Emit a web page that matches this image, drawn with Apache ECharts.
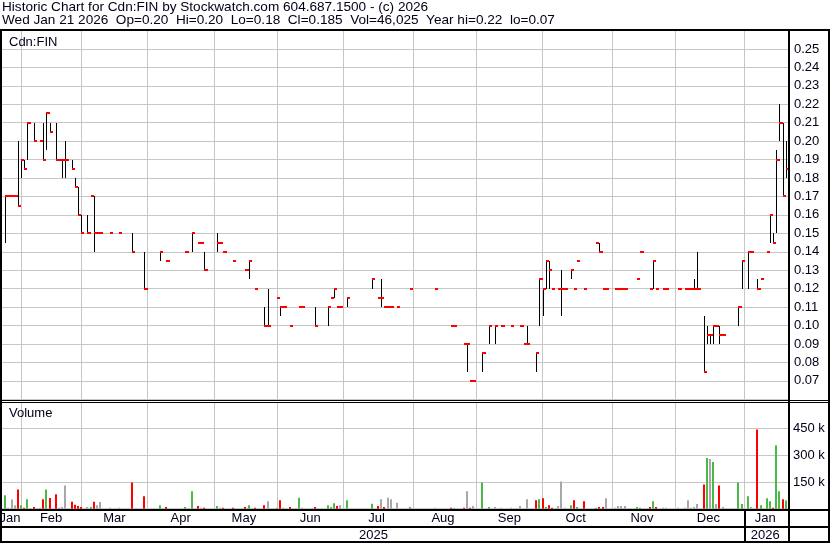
<!DOCTYPE html>
<html><head><meta charset="utf-8">
<script src="https://cdn.jsdelivr.net/npm/echarts@6/dist/echarts.min.js"></script>
<style>html,body{margin:0;padding:0;background:#fff}#c{width:830px;height:543px}</style>
</head><body><div id="c"></div>
<script>
// ---- axis structure (trading-day slots per month) ----
const monthNames = ['Jan','Feb','Mar','Apr','May','Jun','Jul','Aug','Sep','Oct','Nov','Dec','Jan'];
const monthYears = [2025,2025,2025,2025,2025,2025,2025,2025,2025,2025,2025,2025,2026];
const monthSlots = [6,19,21,21,20,21,22,20,21,22,20,22,14];
const yearNames = ['2025','2026'];
const priceTickMin = 0.06, priceTickMax = 0.26, priceTickStep = 0.01;
const volTickMax = 600000, volTickStep = 150000;

// ---- daily data (slot index, high, low, close, volume in thousands) ----
const slots = [1,2,3,4,5,6,7,8,10,12,13,14,15,17,18,19,20,22,23,24,25,27,28,29,30,31,34,37,41,45,50,52,58,60,62,63,64,68,69,70,73,77,78,80,83,84,87,88,89,91,94,95,99,103,104,105,106,107,109,117,119,120,121,122,123,125,129,137,142,143,146,147,148,149,152,154,156,158,161,164,165,166,169,170,171,172,173,174,176,177,178,180,181,182,184,188,189,190,191,194,195,196,197,201,202,205,206,207,209,210,214,216,217,218,219,220,222,223,224,225,226,227,228,233,234,236,237,239,240,242,243,244,245,246,247,248];
const high = [.17,.17,.17,.17,.20,.19,.19,.21,.21,.20,.21,.215,.21,.21,.19,.19,.20,.19,.18,.175,.16,.16,.17,.17,.15,.15,.15,.15,.15,.14,.14,.135,.14,.15,.145,.145,.14,.15,.145,.14,.135,.13,.135,.12,.11,.12,.115,.11,.11,.10,.11,.11,.11,.11,.115,.12,.11,.11,.115,.125,.115,.125,.11,.11,.11,.11,.12,.12,.10,.10,.09,.09,.07,.07,.085,.10,.10,.10,.10,.10,.09,.10,.085,.125,.12,.135,.135,.12,.12,.13,.12,.13,.12,.135,.12,.145,.145,.12,.12,.12,.12,.12,.12,.125,.14,.12,.135,.12,.12,.12,.12,.12,.12,.12,.125,.14,.105,.10,.095,.10,.10,.10,.095,.11,.135,.14,.14,.125,.125,.14,.16,.15,.195,.22,.21,.20];
const low = [.145,.17,.17,.17,.165,.18,.185,.19,.20,.20,.19,.195,.205,.19,.19,.18,.18,.185,.175,.16,.15,.15,.17,.14,.15,.15,.15,.15,.14,.12,.135,.135,.14,.14,.145,.145,.13,.14,.145,.14,.135,.13,.125,.12,.10,.10,.115,.105,.11,.10,.11,.11,.10,.10,.115,.115,.11,.11,.11,.12,.115,.11,.11,.11,.11,.11,.12,.12,.10,.10,.09,.075,.07,.07,.075,.09,.09,.10,.10,.10,.09,.09,.075,.10,.105,.12,.12,.12,.12,.105,.12,.125,.12,.135,.12,.145,.14,.12,.12,.12,.12,.12,.12,.125,.14,.12,.12,.12,.12,.12,.12,.12,.12,.12,.12,.12,.075,.09,.09,.09,.10,.09,.095,.10,.12,.12,.14,.12,.125,.14,.145,.145,.15,.20,.17,.18];
const close = [.17,.17,.17,.17,.165,.19,.185,.21,.20,.20,.19,.215,.205,.19,.19,.19,.19,.185,.175,.16,.15,.15,.17,.15,.15,.15,.15,.15,.14,.12,.14,.135,.14,.15,.145,.145,.13,.145,.145,.14,.135,.13,.135,.12,.10,.10,.115,.11,.11,.10,.11,.11,.10,.11,.115,.12,.11,.11,.115,.125,.115,.115,.11,.11,.11,.11,.12,.12,.10,.10,.09,.09,.07,.07,.085,.10,.10,.10,.10,.10,.09,.09,.085,.125,.12,.135,.13,.12,.12,.12,.12,.13,.12,.135,.12,.145,.14,.12,.12,.12,.12,.12,.12,.125,.14,.12,.135,.12,.12,.12,.12,.12,.12,.12,.12,.12,.075,.095,.095,.10,.10,.095,.095,.11,.135,.14,.14,.12,.125,.14,.16,.145,.19,.21,.17,.185];
const volumeK = [75,5,52,20,108,20,6,53,9,5,53,108,60,81,5,9,130,39,22,15,9,9,9,39,20,37,5,5,147,70,20,9,9,98,15,5,5,15,5,5,5,9,20,5,20,42,5,48,5,9,61,5,9,20,9,31,15,20,48,28,15,53,9,61,53,33,9,5,5,5,5,98,5,15,147,9,9,5,5,15,0,53,48,53,59,9,20,5,15,153,5,20,48,9,42,5,9,9,59,5,15,15,15,9,5,9,42,9,5,5,5,5,48,5,9,26,136,285,280,263,26,130,9,147,26,70,9,445,20,59,42,5,357,98,53,46];

// ---- geometry / styles ----
const FONT = '"Liberation Sans", Arial, sans-serif';
const TXT = '#000018';
const GRIDC = '#c6c6c6';
const L = 2.14, SLOT = 3.16;
const N = monthSlots.reduce((a, b) => a + b, 0);
const W = N * SLOT;

const categories = [];
const monthStart = new Set();
const monthLabelAt = {};
const yearLabelAt = {};
let idx = 0;
monthSlots.forEach((n, m) => {
  if (m > 0) monthStart.add(idx);
  monthLabelAt[idx + Math.floor((n - 1) / 2)] = monthNames[m];
  for (let j = 0; j < n; j++) categories.push(monthNames[m] + ' ' + monthYears[m] + ' #' + (j + 1));
  idx += n;
});
const firstOf2026 = monthSlots.slice(0, 12).reduce((a, b) => a + b, 0);
yearLabelAt[Math.floor((firstOf2026 - 1) / 2)] = yearNames[0];
yearLabelAt[firstOf2026 + Math.floor((N - firstOf2026 - 1) / 2)] = yearNames[1];

const priceData = slots.map((s, k) => [s, high[k], low[k], close[k]]);
const volData = slots.map((s, k) => {
  const prev = k > 0 ? close[k - 1] : null;
  const dir = prev === null || close[k] > prev + 1e-9 ? 0 : (close[k] < prev - 1e-9 ? 1 : 2);
  return [s, volumeK[k] * 1000, dir];
});
const volColors = ['#4cb848', '#ff0000', '#a8a8a8'];

function renderPrice(params, api) {
  const s = api.value(0), hi = api.value(1), lo = api.value(2), cl = api.value(3);
  const pH = api.coord([s, hi]), pL = api.coord([s, lo]), pC = api.coord([s, cl]);
  const bw = api.size([1, 0])[0];
  const x0 = Math.round(pH[0] - bw / 2), x1 = Math.round(pH[0] + bw / 2);
  const ch = [];
  if (hi > lo) {
    ch.push({type: 'rect', shape: {x: x0, y: Math.round(pH[1]), width: 1, height: Math.max(1, Math.round(pL[1]) - Math.round(pH[1]))}, style: {fill: '#000'}});
  }
  ch.push({type: 'rect', shape: {x: x0, y: Math.round(pC[1]) - 1, width: x1 - x0, height: 2}, style: {fill: '#ff0000'}});
  return {type: 'group', children: ch};
}
function renderVol(params, api) {
  const s = api.value(0);
  const top = api.coord([s, api.value(1)]), base = api.coord([s, 0]);
  const bw = api.size([1, 0])[0];
  const x0 = Math.round(top[0] - bw / 2);
  return {type: 'rect', shape: {x: x0 - 1, y: top[1], width: 2, height: base[1] - top[1]}, style: {fill: volColors[api.value(2)]}};
}

const PT = 30.5, PH = 368.8, VT = 402, VH = 106.7;
const monthSplit = {show: true, interval: (i) => monthStart.has(i), lineStyle: {color: GRIDC, width: 1}};
const black = (x, y, w, h) => ({type: 'rect', silent: true, z: 100, shape: {x, y, width: w, height: h}, style: {fill: '#000'}});
const txt = (text, x, y, size) => ({type: 'text', silent: true, z: 100, x, y, style: {text, font: (size || 13) + 'px ' + FONT, fill: TXT, textVerticalAlign: 'middle', verticalAlign: 'middle'}});
const sepX = Math.round(L + firstOf2026 * SLOT) - 1;

const chart = echarts.init(document.getElementById('c'), null, {renderer: 'canvas'});
chart.setOption({
  animation: false,
  backgroundColor: '#fff',
  grid: [
    {left: L, top: PT, width: W, height: PH, containLabel: false, outerBoundsMode: 'none'},
    {left: L, top: VT, width: W, height: VH, containLabel: false, outerBoundsMode: 'none'}
  ],
  xAxis: [
    {type: 'category', gridIndex: 0, position: 'bottom', data: categories, axisLine: {show: false}, axisTick: {show: false}, axisLabel: {show: false}, splitLine: monthSplit},
    {type: 'category', gridIndex: 1, position: 'bottom', data: categories, axisLine: {show: false}, axisTick: {show: false}, splitLine: monthSplit,
      axisLabel: {interval: (i) => monthLabelAt[i] !== undefined, formatter: (v, i) => monthLabelAt[i] || '', margin: 3, fontSize: 13, fontFamily: FONT, color: TXT}},
    {type: 'category', gridIndex: 1, position: 'bottom', data: categories, offset: 17, axisLine: {show: false}, axisTick: {show: false}, splitLine: {show: false},
      axisLabel: {interval: (i) => yearLabelAt[i] !== undefined, formatter: (v, i) => yearLabelAt[i] || '', margin: 3, fontSize: 13, fontFamily: FONT, color: TXT}}
  ],
  yAxis: [
    {type: 'value', gridIndex: 0, position: 'right', min: priceTickMin, max: priceTickMax, interval: priceTickStep,
      axisLine: {show: false}, axisTick: {show: false}, splitLine: {lineStyle: {color: GRIDC, width: 1}},
      axisLabel: {margin: 5, fontSize: 13, fontFamily: FONT, color: TXT,
        formatter: (v) => (v < priceTickMin + 0.005 || v > priceTickMax - 0.005) ? '' : v.toFixed(2)}},
    {type: 'value', gridIndex: 1, position: 'right', min: 0, max: volTickMax, interval: volTickStep,
      axisLine: {show: false}, axisTick: {show: false}, splitLine: {lineStyle: {color: GRIDC, width: 1}},
      axisLabel: {margin: 4, fontSize: 13, fontFamily: FONT, color: TXT,
        formatter: (v) => (v <= 0 || v >= volTickMax) ? '' : (v / 1000) + ' k'}}
  ],
  series: [
    {type: 'custom', name: 'price', xAxisIndex: 0, yAxisIndex: 0, data: priceData, renderItem: renderPrice, encode: {x: 0, y: [1, 2, 3]}, z: 5},
    {type: 'custom', name: 'volume', xAxisIndex: 1, yAxisIndex: 1, data: volData, renderItem: renderVol, encode: {x: 0, y: 1}, z: 5}
  ],
  graphic: [
    txt('Historic Chart for Cdn:FIN by Stockwatch.com 604.687.1500 - (c) 2026', 2, 7, 13.6),
    txt('Wed Jan 21 2026  Op=0.20  Hi=0.20  Lo=0.18  Cl=0.185  Vol=46,025  Year hi=0.22  lo=0.07', 2, 20.5, 13.6),
    txt('Cdn:FIN', 9, 42.5),
    txt('Volume', 9, 413),
    black(0, 29, 830, 2),
    black(0, 29, 2, 514),
    black(828, 29, 2, 514),
    black(788, 29, 2, 514),
    black(0, 400, 830, 1),
    black(0, 402, 830, 1),
    black(0, 509, 830, 2),
    black(0, 526, 830, 2),
    black(0, 541, 830, 2),
    black(sepX, 509, 2, 33)
  ]
});
</script></body></html>
